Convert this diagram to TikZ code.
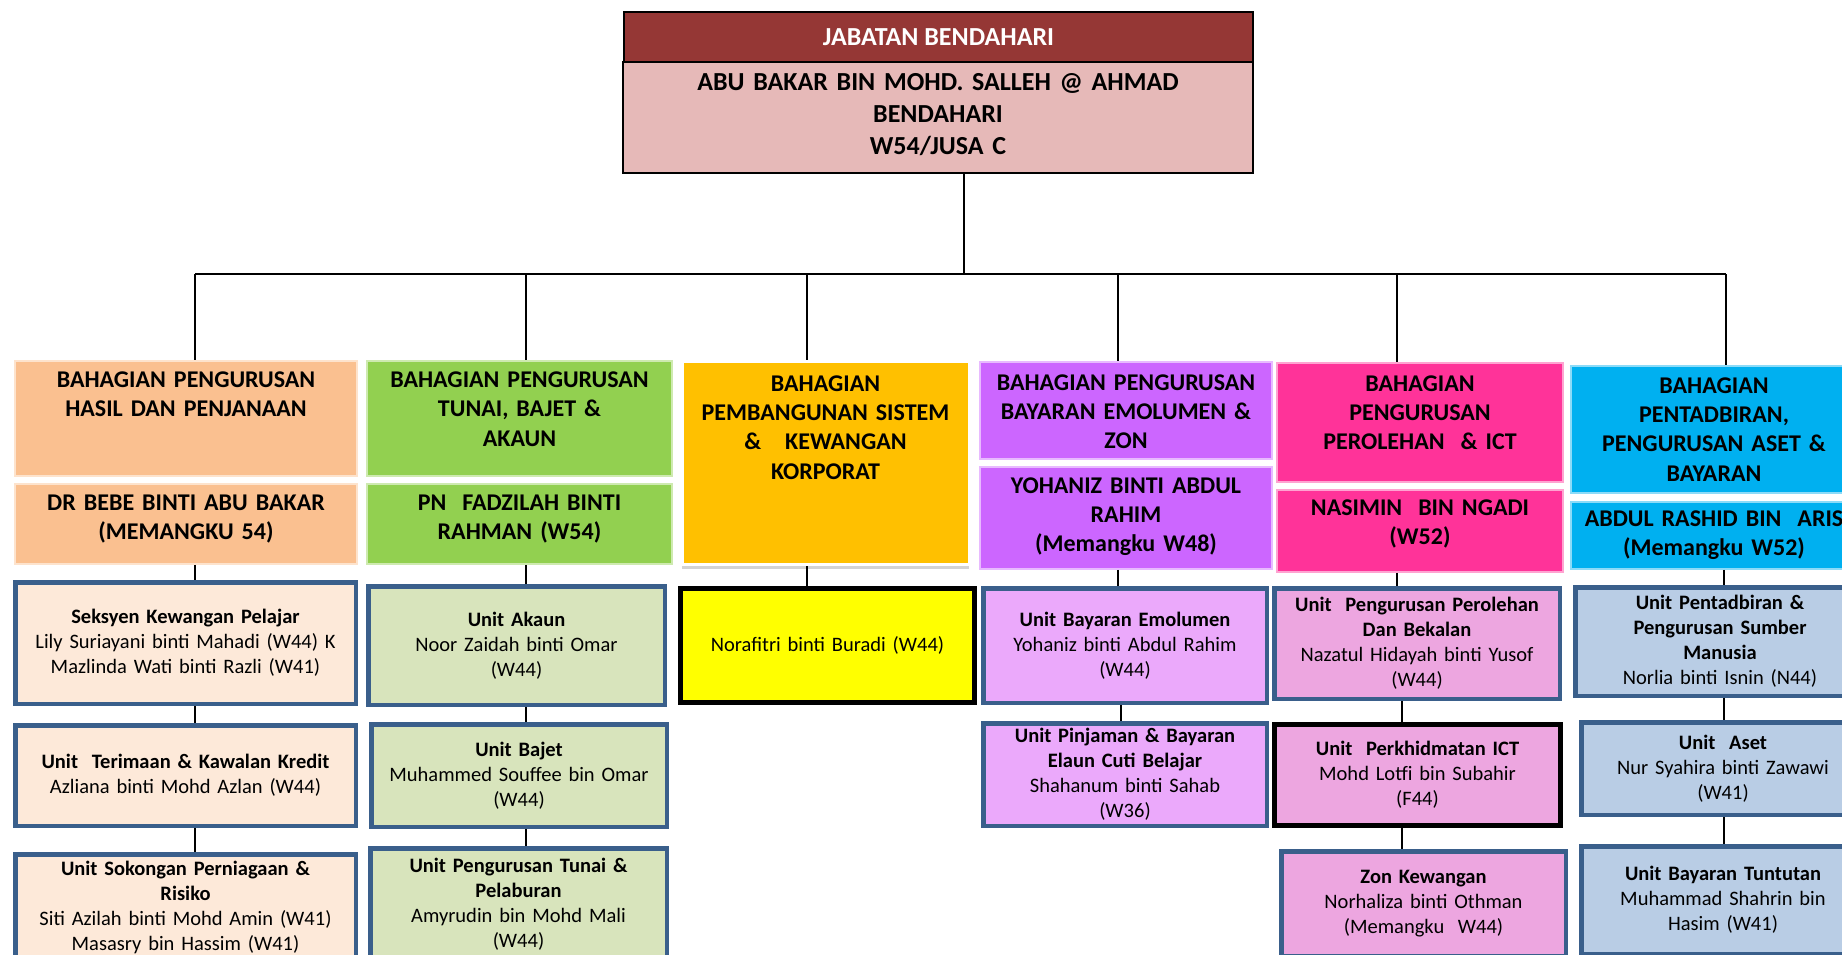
\documentclass[tikz,border=0pt]{standalone}
\usepackage{fontspec}
\setmainfont{Carlito}
\usetikzlibrary{calc,shadows}
\definecolor{titlered}{HTML}{953735}
\definecolor{toppink}{HTML}{E6B9B8}
\definecolor{hA}{HTML}{FAC090}
\definecolor{uA}{HTML}{FDE9D9}
\definecolor{hB}{HTML}{92D050}
\definecolor{uB}{HTML}{D8E4BC}
\definecolor{hC}{HTML}{FFC000}
\definecolor{uC}{HTML}{FFFF00}
\definecolor{hD}{HTML}{CC66FF}
\definecolor{uD}{HTML}{EBA9FB}
\definecolor{hE}{HTML}{FF3399}
\definecolor{uE}{HTML}{EDA6E0}
\definecolor{hF}{HTML}{00B0F0}
\definecolor{uF}{HTML}{B9CDE5}
\definecolor{unitborder}{HTML}{3A5F8B}
\newcommand\HdrBox[8]{%
  \node[hdrbox=#6, minimum width={#4-#2}, minimum height={#5-#3}] (#1) at ({(#2+#4)/2},{(#3+#5)/2}) {};
  \node[hdrtext, anchor=base] (#1t) at ({(#2+#4)/2},#7) {#8};}
\newcommand\UnitBox[7]{%
  \pgfmathsetmacro\myboxw{#4-#2-4.5}%
  \pgfmathsetmacro\myboxh{#5-#3-4.5}%
  \pgfmathsetmacro\mytextw{#4-#2-14}%
  \node[#6, minimum width=\myboxw pt, minimum height=\myboxh pt, text width=\mytextw pt] (#1) at ({(#2+#4)/2},{(#3+#5)/2}) {#7};}
\begin{document}
\begin{tikzpicture}[x=1pt,y=-1pt,
  hdrbox/.style={fill=#1, draw=#1!45!white, line width=1.5, inner sep=0},
  hdrtext/.style={text width=300, align=center, inner sep=0, font=\fontsize{24}{29.4}\selectfont\bfseries},
  unitbox/.style={fill=#1, draw=unitborder, line width=4.5, inner sep=0, align=center, font=\fontsize{20.5}{25}\selectfont},
  blackbox/.style={unitbox=#1, draw=black, line width=5},
  conn/.style={draw=black, line width=2}]
\useasboundingbox (0,0) rectangle (1842,955);
\clip (0,0) rectangle (1842,955);
% top box
\node[fill=titlered, draw=black, line width=1.5, minimum width=629, minimum height=50, inner sep=0,
  text=white, font=\fontsize{26}{31.7}\selectfont\bfseries] (title) at (938.5,37) {JABATAN BENDAHARI};
\node[fill=toppink, draw=black, line width=1.5, minimum width=630, minimum height=111, inner sep=0] (chief) at (938,117.5) {};
\node[anchor=base, text width=620, align=center, inner sep=0, font=\fontsize{26}{31.7}\selectfont\bfseries] (chieft) at (938,90.8)
  {ABU BAKAR BIN MOHD. SALLEH @ AHMAD\\BENDAHARI\\W54/JUSA C};
% division headers
\HdrBox{hA}{15}{361}{357}{476}{hA}{387.5}{BAHAGIAN PENGURUSAN\\HASIL DAN PENJANAAN}
\HdrBox{nA}{15}{484}{357}{564}{hA}{510}{DR BEBE BINTI ABU BAKAR\\(MEMANGKU 54)}
\HdrBox{hB}{367}{361}{672}{476}{hB}{387.5}{BAHAGIAN PENGURUSAN\\TUNAI, BAJET \&\\AKAUN}
\HdrBox{nB}{367}{484}{672}{564}{hB}{510}{PN\ \ FADZILAH BINTI\\RAHMAN (W54)}
\node[fill=hC, draw=white, line width=3, inner sep=0, minimum width=287, minimum height=203,
  drop shadow={shadow xshift=0pt, shadow yshift=-4pt, opacity=0.35}] (hC) at (825.5,463) {};
\node[hdrtext, anchor=base] (hCt) at (825.5,391) {BAHAGIAN\\PEMBANGUNAN SISTEM\\\&\ \ \ KEWANGAN\\KORPORAT};
\HdrBox{hD}{980}{362}{1272}{459}{hD}{390}{BAHAGIAN PENGURUSAN\\BAYARAN EMOLUMEN \&\\ZON}
\HdrBox{nD}{980}{467}{1272}{569}{hD}{493}{YOHANIZ BINTI ABDUL\\RAHIM\\(Memangku W48)}
\HdrBox{hE}{1277}{363}{1563}{482}{hE}{391}{BAHAGIAN\\PENGURUSAN\\PEROLEHAN\ \ \& ICT}
\HdrBox{nE}{1277}{490}{1563}{572}{hE}{515.5}{NASIMIN\ \ BIN NGADI\\(W52)}
\HdrBox{hF}{1571}{366}{1857}{493}{hF}{393}{BAHAGIAN\\PENTADBIRAN,\\PENGURUSAN ASET \&\\BAYARAN}
\HdrBox{nF}{1571}{502}{1857}{569}{hF}{526}{ABDUL RASHID BIN\ \ ARIS\\(Memangku W52)}
% units
\UnitBox{uA1}{13}{580}{358}{706}{unitbox=uA}{\textbf{Seksyen Kewangan Pelajar}\\Lily Suriayani binti Mahadi (W44) K\\Mazlinda Wati binti Razli (W41)}
\UnitBox{uA2}{13}{723}{358}{828}{unitbox=uA}{\textbf{Unit\ \ Terimaan \& Kawalan Kredit}\\Azliana binti Mohd Azlan (W44)}
\UnitBox{uA3}{13}{852}{358}{962}{unitbox=uA}{\textbf{Unit Sokongan Perniagaan \&}\\\textbf{Risiko}\\Siti Azilah binti Mohd Amin (W41)\\Masasry bin Hassim (W41)}
\UnitBox{uB1}{366}{584}{667}{707}{unitbox=uB}{\textbf{Unit Akaun}\\Noor Zaidah binti Omar\\(W44)}
\UnitBox{uB2}{369}{722}{669}{829}{unitbox=uB}{\textbf{Unit Bajet}\\Muhammed Souffee bin Omar\\(W44)}
\UnitBox{uB3}{368}{846}{669}{962}{unitbox=uB}{\textbf{Unit Pengurusan Tunai \&}\\\textbf{Pelaburan}\\Amyrudin bin Mohd Mali\\(W44)}
\UnitBox{uC1}{678}{586}{977}{705}{blackbox=uC}{Norafitri binti Buradi (W44)}
\UnitBox{uD1}{981}{586}{1269}{705}{unitbox=uD}{\textbf{Unit Bayaran Emolumen}\\Yohaniz binti Abdul Rahim\\(W44)}
\UnitBox{uD2}{981}{721}{1269}{828}{unitbox=uD}{\textbf{Unit Pinjaman \& Bayaran}\\\textbf{Elaun Cuti Belajar}\\Shahanum binti Sahab\\(W36)}
\UnitBox{uE1}{1272}{586}{1562}{701}{unitbox=uE}{\textbf{Unit\ \ Pengurusan Perolehan}\\\textbf{Dan Bekalan}\\Nazatul Hidayah binti Yusof\\(W44)}
\UnitBox{uE2}{1272}{722}{1563}{828}{blackbox=uE}{\textbf{Unit\ \ Perkhidmatan ICT}\\Mohd Lotfi bin Subahir\\(F44)}
\UnitBox{uE3}{1279}{849}{1568}{958}{unitbox=uE}{\textbf{Zon Kewangan}\\Norhaliza binti Othman\\(Memangku\ \ W44)}
\UnitBox{uF1}{1573}{585}{1867}{698}{unitbox=uF}{\textbf{Unit Pentadbiran \&}\\\textbf{Pengurusan Sumber}\\\textbf{Manusia}\\Norlia binti Isnin (N44)}
\UnitBox{uF2}{1579}{720}{1867}{817}{unitbox=uF}{\textbf{Unit\ \ Aset}\\Nur Syahira binti Zawawi\\(W41)}
\UnitBox{uF3}{1579}{844}{1867}{956}{unitbox=uF}{\textbf{Unit Bayaran Tuntutan}\\Muhammad Shahrin bin\\Hasim (W41)}
% connectors
\coordinate (stem) at (964,274);
\coordinate (bA) at (195,274);
\coordinate (bB) at (526,274);
\coordinate (bC) at (807,274);
\coordinate (bD) at (1118,274);
\coordinate (bE) at (1397,274);
\coordinate (bF) at (1726,274);
\draw[conn] (chief.south -| stem) -- (stem);
\draw[conn] (bA) -- (bF);
\foreach \c in {A,B,C,D,E,F} {\draw[conn] (b\c) -- (b\c |- h\c.north);}
\draw[conn] (nA.south -| bA) -- (uA1.north -| bA);
\draw[conn] (uA1.south -| bA) -- (uA2.north -| bA);
\draw[conn] (uA2.south -| bA) -- (uA3.north -| bA);
\draw[conn] (nB.south -| bB) -- (uB1.north -| bB);
\draw[conn] (uB1.south -| bB) -- (uB2.north -| bB);
\draw[conn] (uB2.south -| bB) -- (uB3.north -| bB);
\draw[conn] (hC.south -| bC) -- (uC1.north -| bC);
\draw[conn] (nD.south -| bD) -- (uD1.north -| bD);
\coordinate (dD) at (1121,0);
\draw[conn] (uD1.south -| dD) -- (uD2.north -| dD);
\draw[conn] (nE.south -| bE) -- (uE1.north -| bE);
\coordinate (dE) at (1402,0);
\draw[conn] (uE1.south -| dE) -- (uE2.north -| dE);
\draw[conn] (uE2.south -| dE) -- (uE3.north -| dE);
\coordinate (dF) at (1724,0);
\draw[conn] (nF.south -| dF) -- (uF1.north -| dF);
\draw[conn] (uF1.south -| dF) -- (uF2.north -| dF);
\draw[conn] (uF2.south -| dF) -- (uF3.north -| dF);
\end{tikzpicture}
\end{document}
